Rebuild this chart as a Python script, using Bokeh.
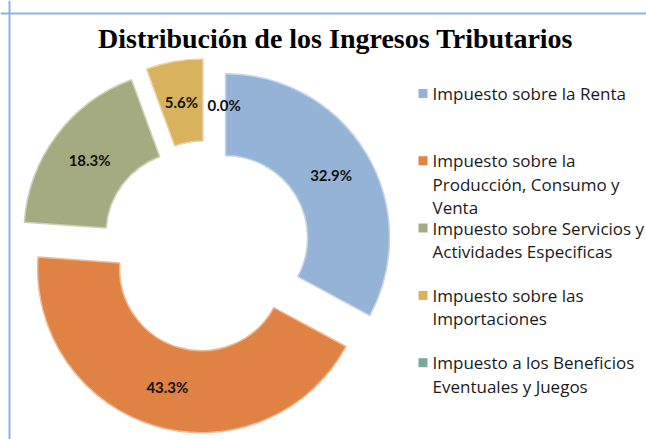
import math
from bokeh.plotting import figure
from bokeh.models import Range1d, ColumnDataSource, Span
from bokeh.core.properties import value
from bokeh.embed import file_html
from bokeh.resources import INLINE

# ---------------- data ----------------
title = "Distribución de los Ingresos Tributarios"
categories = [
    "Impuesto sobre la Renta",
    "Impuesto sobre la Producción, Consumo y Venta",
    "Impuesto sobre Servicios y Actividades Especificas",
    "Impuesto sobre las Importaciones",
    "Impuesto a los Beneficios Eventuales y Juegos",
]
legend_lines = [
    ["Impuesto sobre la Renta"],
    ["Impuesto sobre la", "Producción, Consumo y", "Venta"],
    ["Impuesto sobre Servicios y", "Actividades Especificas"],
    ["Impuesto sobre las", "Importaciones"],
    ["Impuesto a los Beneficios", "Eventuales y Juegos"],
]
shares = [32.9, 43.3, 18.3, 5.6, 0.0]
colors = ["#95B3D7", "#DF8244", "#A5AB80", "#D8B25C", "#7BA89C"]

# ---------------- layout (pixels) ----------------
W, H = 646, 439
CX, CY = 207, H - 248      # donut centre
R_OUT, R_IN = 164, 82
EXPLODE = [21, 21, 24.5, 26, 21]   # per-slice explosion (px)
LABEL_R = (R_OUT + R_IN) / 2
TWO_PI = 2 * math.pi

def lighten(hex_color, f):
    h = hex_color.lstrip("#")
    r, g, b = (int(h[i:i + 2], 16) for i in (0, 2, 4))
    r, g, b = (int(c + (255 - c) * f) for c in (r, g, b))
    return "#%02x%02x%02x" % (r, g, b)

total = sum(shares)
xs, ys, starts, ends, fills, edges = [], [], [], [], [], []
lx, ly, ltxt, lalign = [], [], [], []
cum = 0.0
for s, c, ex in zip(shares, colors, EXPLODE):
    frac = s / total
    a0 = math.pi / 2 - TWO_PI * cum            # clockwise start (math angle)
    a1 = math.pi / 2 - TWO_PI * (cum + frac)   # clockwise end
    mid = (a0 + a1) / 2
    cx = CX + ex * math.cos(mid)
    cy = CY + ex * math.sin(mid)
    if s > 0:
        st = a1 % TWO_PI
        en = st + (a0 - a1)
        xs.append(cx); ys.append(cy)
        starts.append(st); ends.append(en)
        fills.append(c); edges.append(lighten(c, 0.45))
    lx.append(cx + LABEL_R * math.cos(mid))
    ly.append(cy + LABEL_R * math.sin(mid))
    ltxt.append("%.1f%%" % s)
    lalign.append("left" if s == 0 else "center")
    cum += frac

p = figure(width=W, height=H, output_backend="svg", toolbar_location=None,
           x_range=Range1d(0, W), y_range=Range1d(0, H),
           min_border=0, min_border_left=0, min_border_right=0,
           min_border_top=0, min_border_bottom=0)
p.axis.visible = False
p.grid.visible = False
p.outline_line_color = None
p.background_fill_color = "white"
p.border_fill_color = "white"

# chart frame (top and left edges visible)
p.add_layout(Span(location=9, dimension="height", line_color="#8DB3E2", line_width=2))
p.add_layout(Span(location=H - 13, dimension="width", line_color="#8DB3E2", line_width=2))

src = ColumnDataSource(dict(x=xs, y=ys, start=starts, end=ends, fill=fills, edge=edges))
p.annular_wedge(x="x", y="y", inner_radius=R_IN, outer_radius=R_OUT,
                start_angle="start", end_angle="end", direction="anticlock",
                fill_color="fill", line_color="edge", line_width=1.5, source=src)

lsrc = ColumnDataSource(dict(x=lx, y=ly, t=ltxt, a=lalign))
p.text(x="x", y="y", text="t", text_align="a", text_baseline="middle",
       text_font=value("Lato"), text_font_style="bold", text_font_size="15px",
       text_color="#111111", source=lsrc)

# title
p.text(x=[335], y=[H - 38], text=[title], text_align="center", text_baseline="middle",
       text_font=value("Liberation Serif"), text_font_style="bold",
       text_font_size="28px", text_color="black")

# legend
LEG_X_SQ, LEG_X_TXT = 422.5, 432
LEG_Y0, LEG_STEP, LINE_H = H - 93, 67.3, 23.5
sq_x, sq_y, sq_c, tx, ty, tt = [], [], [], [], [], []
for i, (lines, c) in enumerate(zip(legend_lines, colors)):
    y0 = LEG_Y0 - i * LEG_STEP
    sq_x.append(LEG_X_SQ); sq_y.append(y0); sq_c.append(c)
    for j, ln in enumerate(lines):
        tx.append(LEG_X_TXT); ty.append(y0 - j * LINE_H); tt.append(ln)
p.rect(x=sq_x, y=sq_y, width=9, height=9, fill_color=sq_c, line_color=None)
p.text(x=tx, y=ty, text=tt, text_align="left", text_baseline="middle",
       text_font=value("Open Sans"), text_font_size="17px", text_color="#1a1a1a")

open("out.html", "w").write(file_html(p, INLINE))
